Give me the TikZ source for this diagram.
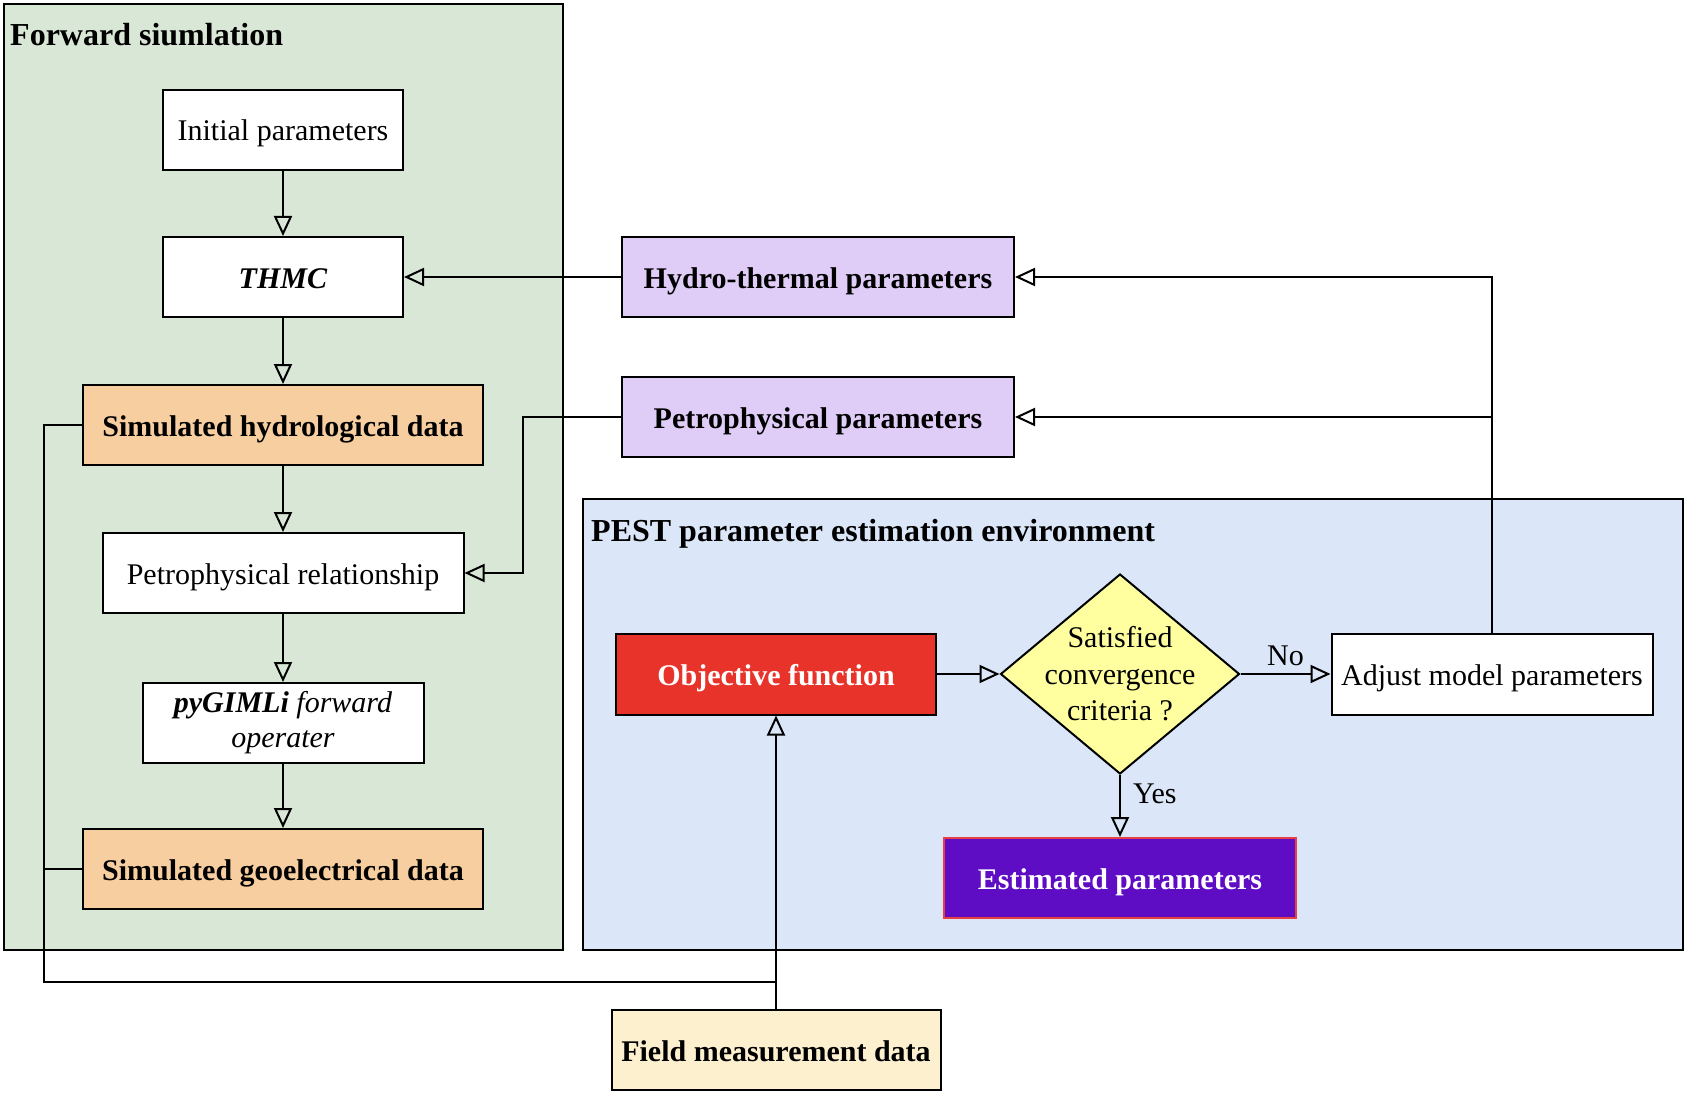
\documentclass[tikz,border=0pt]{standalone}
\usepackage{fontspec}
\setmainfont{Liberation Serif}
\usetikzlibrary{arrows.meta,shapes.geometric}
\definecolor{greenbg}{HTML}{D9E7D6}
\definecolor{bluebg}{HTML}{DBE7F8}
\definecolor{orangebox}{HTML}{F7CE9F}
\definecolor{lilacbox}{HTML}{E0CDF7}
\definecolor{redbox}{HTML}{E8332A}
\definecolor{violetbox}{HTML}{5E0DC5}
\definecolor{violetedge}{HTML}{E84040}
\definecolor{yellowbox}{HTML}{FFFFA0}
\definecolor{creambox}{HTML}{FCF0CF}
\begin{document}
\begin{tikzpicture}[x=1pt,y=-1pt,
  container/.style={draw=black, line width=2pt, inner sep=0pt, anchor=north west},
  basebox/.style={draw=black, line width=2pt, fill=white, inner sep=0pt, align=center,
    minimum height=80, font=\fontsize{30}{36}\selectfont},
  box/.style={basebox, text height=26pt, text depth=4pt},
  bbox/.style={box, font=\bfseries\fontsize{30}{36}\selectfont},
  title/.style={anchor=west, inner sep=0pt, font=\bfseries\fontsize{32}{36}\selectfont},
  conn/.style={line width=2pt, -{Triangle[open, length=20pt, width=18pt, line width=2pt]}},
  wire/.style={line width=2pt},
  lbl/.style={font=\fontsize{30}{36}\selectfont},
]
\useasboundingbox (0,0) rectangle (1708,1118);

% containers
\node[container, fill=greenbg, minimum width=559, minimum height=946] (fwd) at (3,3) {};
\node[container, fill=bluebg, minimum width=1100, minimum height=451] (pest) at (582,498) {};
\node[title] (fwdt) at (10,35) {Forward siumlation};
\node[title] (pestt) at (591,534) {PEST parameter estimation environment};

% forward simulation column
\node[box, minimum width=240] (init) at (283,130) {Initial parameters};
\node[box, minimum width=240] (thmc) at (283,277) {\textbf{\textit{THMC}}};
\node[bbox, fill=orangebox, minimum width=400] (simh) at (283,425) {Simulated hydrological data};
\node[box, minimum width=361] (petrorel) at (283,573) {Petrophysical relationship};
\node[basebox, minimum width=281] (pyg) at (283,723) {\textbf{\textit{pyGIMLi}} \textit{forward}\\[-1pt]\textit{operater}};
\node[bbox, fill=orangebox, minimum width=400] (simg) at (283,869) {Simulated geoelectrical data};

% parameter boxes
\node[bbox, fill=lilacbox, minimum width=392] (hydp) at (818,277) {Hydro-thermal parameters};
\node[bbox, fill=lilacbox, minimum width=392] (petp) at (818,417) {Petrophysical parameters};

% PEST
\node[bbox, fill=redbox, text=white, minimum width=320, minimum height=81] (obj) at (776,674) {Objective function};
\node[diamond, draw=black, line width=2pt, fill=yellowbox, inner sep=0pt,
  minimum width=239, minimum height=200] (dia) at (1120,674) {};
\node[align=center, inner sep=0pt, font=\fontsize{30}{36.5}\selectfont] (diat) at (dia.center) {Satisfied\\convergence\\criteria ?};
\node[box, minimum width=321, minimum height=81] (adj) at (1492,674) {Adjust model parameters};
\node[bbox, fill=violetbox, draw=violetedge, text=white, minimum width=352] (est) at (1120,878) {Estimated parameters};
\node[bbox, fill=creambox, minimum width=329] (field) at (776,1050) {Field measurement data};

% bend points
\coordinate (pbend) at (523,417);
\coordinate (lx) at (43.5,982);
\coordinate (fj) at (776,982);

% forward chain
\draw[conn] (init) -- (thmc);
\draw[conn] (thmc) -- (simh);
\draw[conn] (simh) -- (petrorel);
\draw[conn] (petrorel) -- (pyg);
\draw[conn] (pyg) -- (simg);

% parameters into forward model
\draw[conn] (hydp) -- (thmc);
\draw[conn] (petp.west) -- (pbend) |- (petrorel.east);

% feedback from adjust
\draw[conn] (adj.north) |- (hydp.east);
\draw[conn] (adj.north |- petp.east) -- (petp.east);

% PEST flow
\draw[conn] (obj) -- (dia);
\draw[conn] (dia) -- node[lbl, above, inner sep=7pt] (no) {No} (adj);
\draw[conn] (dia.south) -- node[lbl, right, pos=0.31, inner sep=12pt] (yes) {Yes} (est.north);

% data to objective function
\draw[wire] (simh.west) -| (lx) -- (fj);
\draw[wire] (simg.west) -- (simg.west -| lx);
\draw[conn] (field.north) -- (obj.south);
\end{tikzpicture}
\end{document}
